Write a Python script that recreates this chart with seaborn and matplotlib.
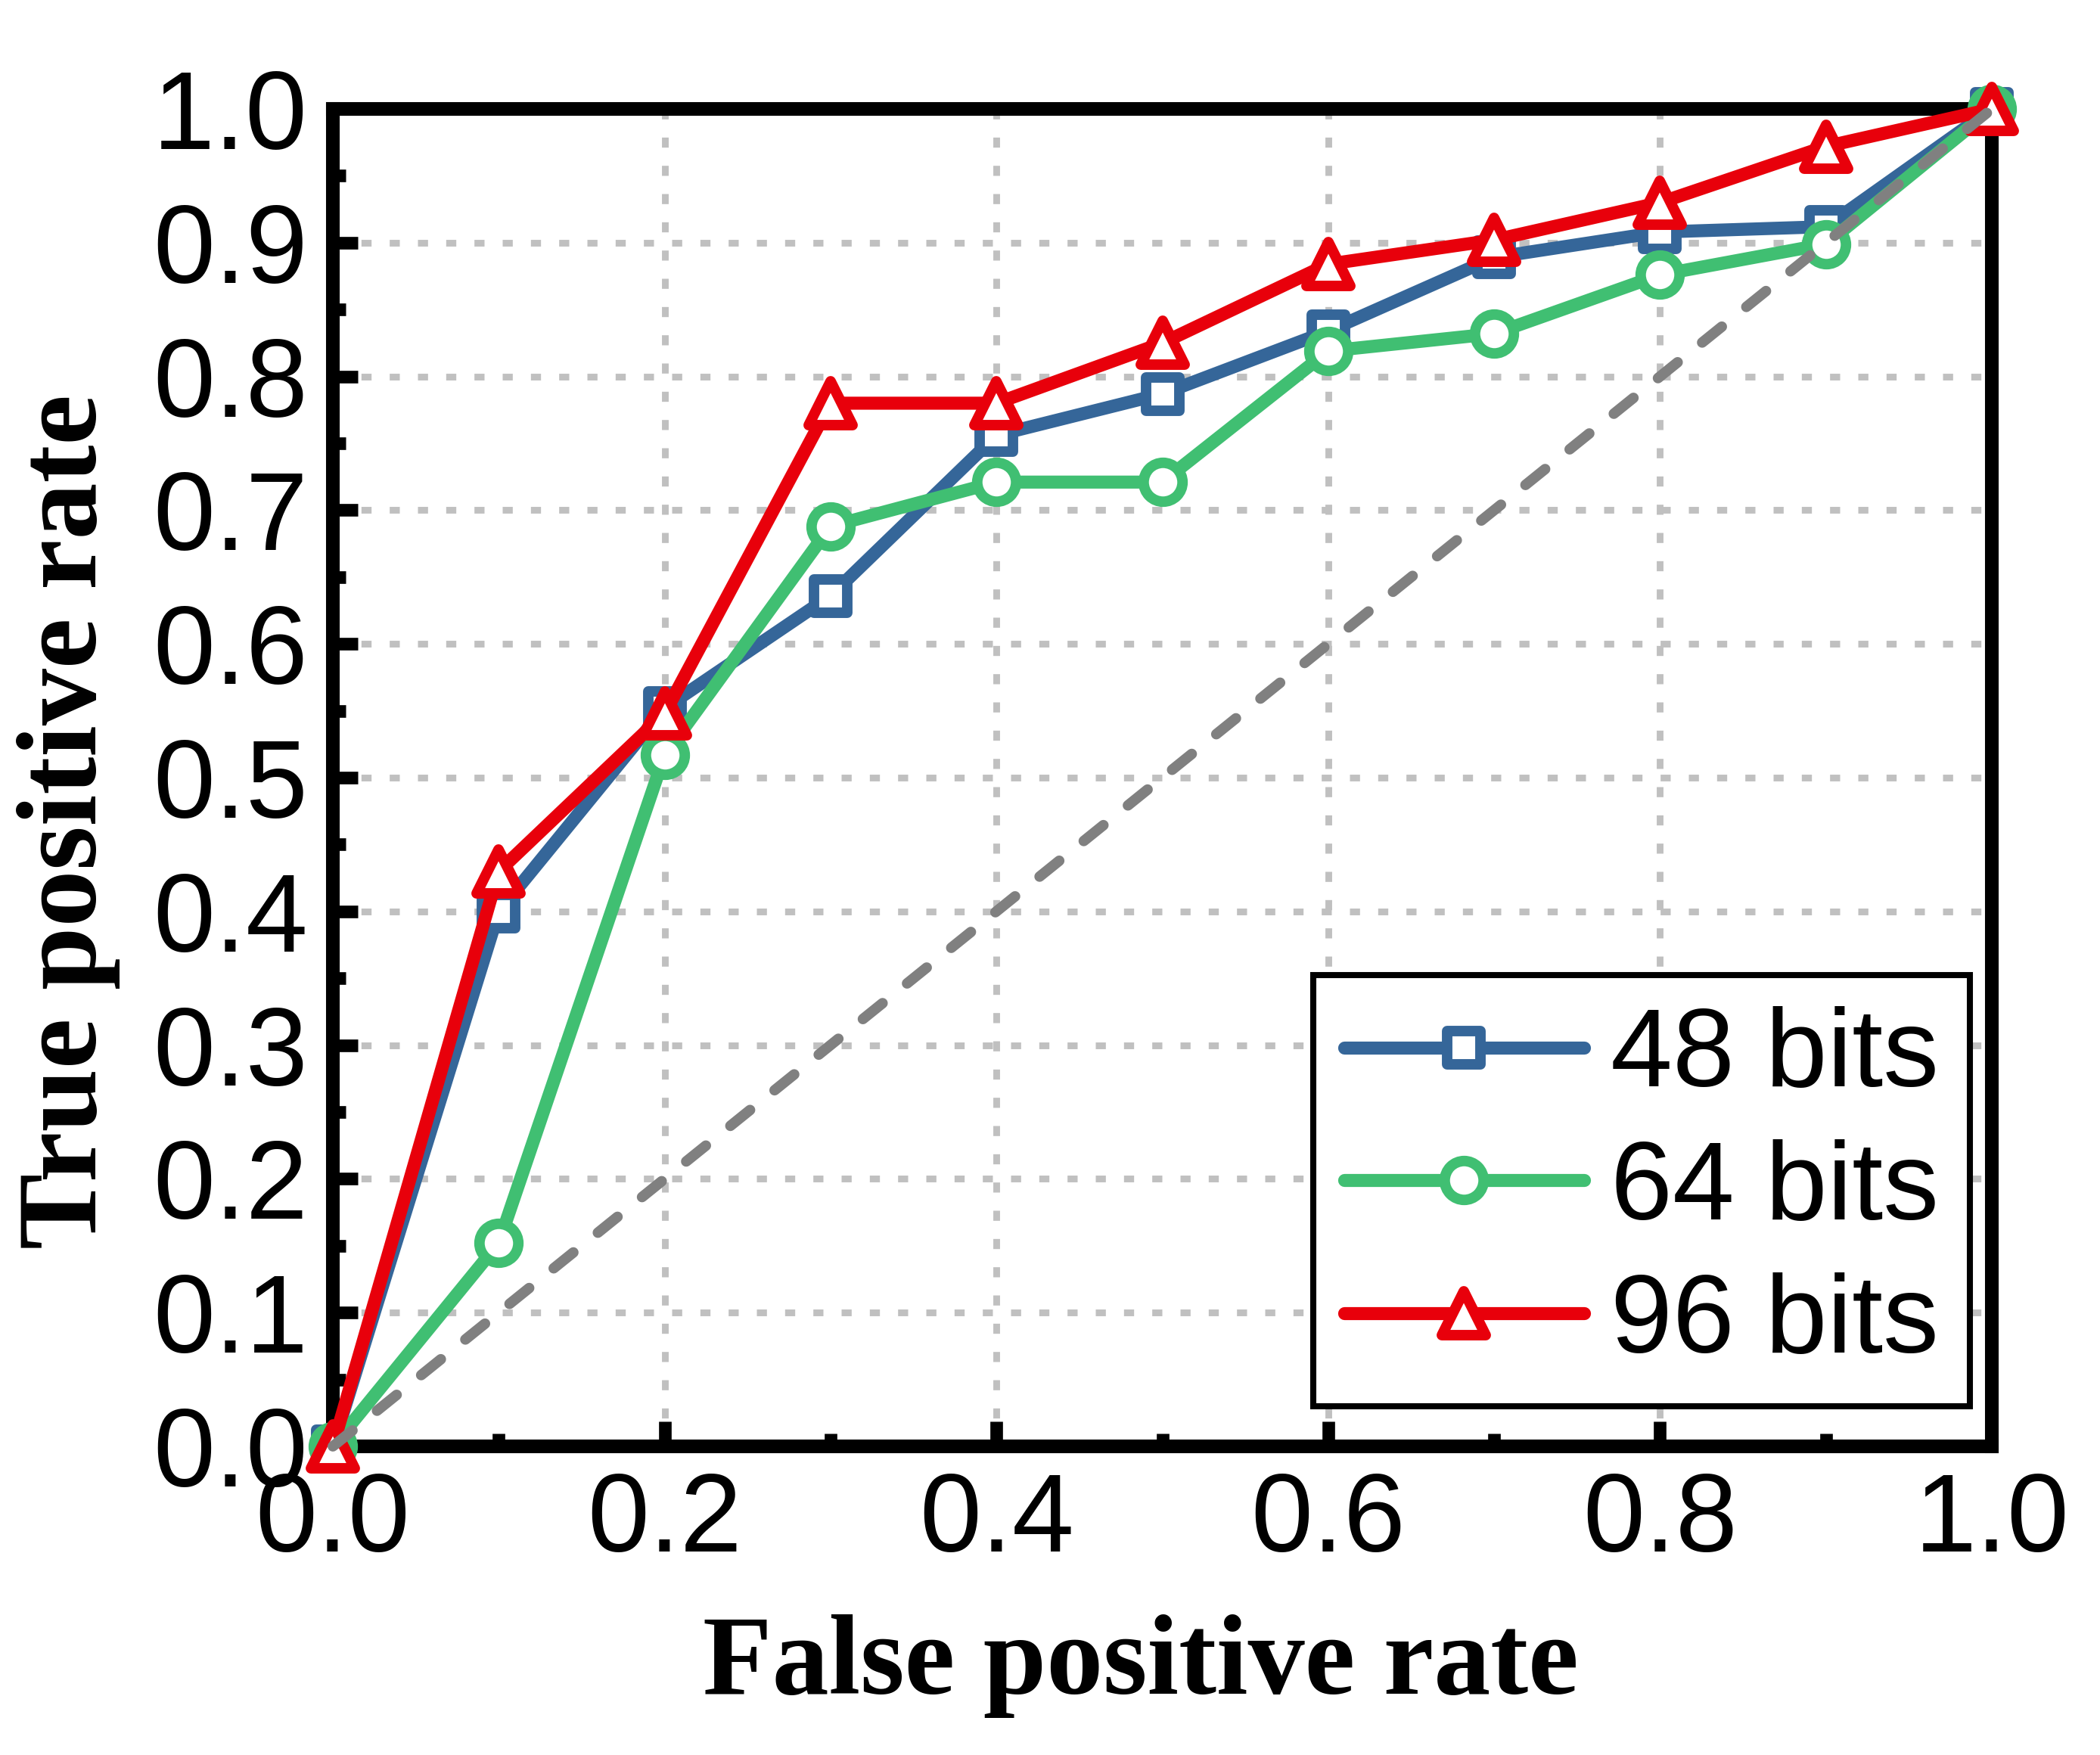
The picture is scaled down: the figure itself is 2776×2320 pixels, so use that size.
import matplotlib
matplotlib.use("Agg")
import matplotlib.pyplot as plt
from matplotlib.markers import MarkerStyle
from matplotlib.ticker import MultipleLocator
import seaborn as sns

# ROC points
fpr = [0.0, 0.1, 0.2, 0.3, 0.4, 0.5, 0.6, 0.7, 0.8, 0.9, 1.0]
tpr_48 = [0.0, 0.40, 0.552, 0.636, 0.756, 0.787, 0.834, 0.889, 0.908, 0.912, 1.0]
tpr_64 = [0.0, 0.152, 0.517, 0.688, 0.721, 0.721, 0.819, 0.832, 0.876, 0.899, 1.0]
tpr_96 = [0.0, 0.43, 0.548, 0.78, 0.78, 0.825, 0.884, 0.902, 0.930, 0.972, 1.0]
chance = [0.0, 1.0]
labels = ['48 bits', '64 bits', '96 bits']

colors = ['#356699', '#40BF72', '#E8000B']
markers = ['s', 'o', '^']
msizes = [16, 18.5, 21]

sns.set_theme(style='white', rc={'text.color': 'black', 'axes.labelcolor': 'black',
                                 'xtick.color': 'black', 'ytick.color': 'black'})
plt.rcParams['font.family'] = ['Liberation Sans', 'DejaVu Sans']

fig = plt.figure(figsize=(13.88, 11.6), dpi=200)
ax = fig.add_axes([0.1585, 0.1759, 0.790, 0.762])

for tpr, lab, c, m, ms in zip([tpr_48, tpr_64, tpr_96], labels, colors, markers, msizes):
    sns.lineplot(x=fpr, y=tpr, ax=ax, color=c, linewidth=6.2, label=lab,
                 marker=MarkerStyle(m, joinstyle='round'), markersize=ms,
                 markerfacecolor='white', markeredgecolor=c, markeredgewidth=5,
                 solid_capstyle='round', solid_joinstyle='round',
                 clip_on=False, zorder=3)

ax.plot(chance, chance, color='#808080', linewidth=5, dashes=(2.4, 3.0),
        dash_capstyle='round', clip_on=False, zorder=4)

ax.set_xlim(0, 1)
ax.set_ylim(0, 1)
ax.xaxis.set_major_locator(MultipleLocator(0.2))
ax.xaxis.set_minor_locator(MultipleLocator(0.1))
ax.yaxis.set_major_locator(MultipleLocator(0.1))
ax.yaxis.set_minor_locator(MultipleLocator(0.05))
ax.xaxis.set_major_formatter(lambda v, p: f'{v:.1f}')
ax.yaxis.set_major_formatter(lambda v, p: f'{v:.1f}')

ax.set_axisbelow(True)
ax.grid(True, which='major', color='#C0C0C0', lw=3.2, linestyle=(0, (1.5, 2.7)))

for sp in ax.spines.values():
    sp.set_visible(True)
    sp.set_color('black')
    sp.set_linewidth(6.5)
    sp.set_zorder(2.5)

ax.tick_params(which='major', direction='in', length=12, width=6, color='black',
               labelsize=53, labelcolor='black', pad=12,
               left=True, bottom=True, top=False, right=False)
ax.tick_params(which='minor', direction='in', length=6, width=6, color='black',
               left=True, bottom=True, top=False, right=False)

lab_font = dict(family='Liberation Serif', weight='bold', size=54, color='black')
ax.set_xlabel('False positive rate', fontdict=lab_font, labelpad=19)
ax.set_ylabel('True positive rate', fontdict=lab_font, labelpad=15.5)
ax.xaxis.label.set_x(0.487)
ax.yaxis.label.set_y(0.467)

leg = ax.legend(loc='lower right', bbox_to_anchor=(0.9868, 0.03), borderaxespad=0,
                fontsize=53, handlelength=2.15, handletextpad=0.24, borderpad=0.28,
                labelspacing=0.27, frameon=True, fancybox=False, framealpha=1)
leg.get_frame().set_edgecolor('black')
leg.get_frame().set_linewidth(2.9)
for t in leg.get_texts():
    t.set_color('black')
leg.set_zorder(10)

fig.savefig('out.png', dpi=200, facecolor='white')
